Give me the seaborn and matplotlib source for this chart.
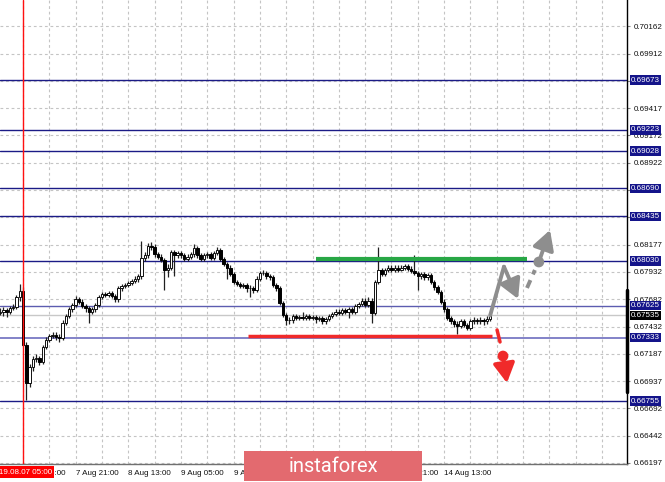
import matplotlib
matplotlib.use('Agg')
import matplotlib.pyplot as plt
import matplotlib.transforms as mtransforms
from matplotlib.patches import Rectangle
import seaborn as sns
import pandas as pd

# H1 свечи, индекс 0 = 2019.08.07 05:00
bar_start = -7
first_open = 0.6756
closes = [0.6757, 0.6758, 0.6757, 0.6760, 0.6761, 0.6770, 0.6776,
          0.6727, 0.6692, 0.6707, 0.6714, 0.6715, 0.6711, 0.6725, 0.6731, 0.6735, 0.6736,
          0.6734, 0.6733, 0.6747, 0.6753, 0.6759, 0.6763, 0.6768, 0.6766, 0.6762, 0.6760,
          0.6757, 0.6759, 0.6763, 0.6770, 0.6773, 0.6772, 0.6774, 0.6771, 0.6768, 0.6778,
          0.6780, 0.6781, 0.6783, 0.6785, 0.6787, 0.6789, 0.6806, 0.6808, 0.6817, 0.6816,
          0.6809, 0.6807, 0.6804, 0.6795, 0.6797, 0.6811, 0.6808, 0.6810, 0.6808, 0.6805,
          0.6807, 0.6809, 0.6815, 0.6808, 0.6805, 0.6808, 0.6809, 0.6806, 0.6810, 0.6813,
          0.6805, 0.6800, 0.6797, 0.6791, 0.6784, 0.6782, 0.6780, 0.6781, 0.6778, 0.6778,
          0.6777, 0.6787, 0.6792, 0.6792, 0.6789, 0.6788, 0.6781, 0.6778, 0.6765, 0.6754,
          0.6749, 0.6749, 0.6753, 0.6751, 0.6752, 0.6751, 0.6753, 0.6751, 0.6752, 0.6750,
          0.6751, 0.6748, 0.6750, 0.6753, 0.6755, 0.6757, 0.6756, 0.6758, 0.6757, 0.6759,
          0.6757, 0.6762, 0.6764, 0.6767, 0.6763, 0.6767, 0.6756, 0.6784, 0.6795, 0.6791,
          0.6795, 0.6797, 0.6795, 0.6797, 0.6795, 0.6797, 0.6798, 0.6796, 0.6794, 0.6792,
          0.6789, 0.6791, 0.6788, 0.6790, 0.6784, 0.6779, 0.6775, 0.6766, 0.6759, 0.6751,
          0.6748, 0.6746, 0.6744, 0.6748, 0.6745, 0.6742, 0.6748, 0.6749, 0.6748, 0.6749,
          0.6748, 0.6750, 0.67535]
highs = [0.6760, 0.6761, 0.6760, 0.6762, 0.6764, 0.6772, 0.6782,
         0.6779, 0.6729, 0.6709, 0.6717, 0.6718, 0.6717, 0.6727, 0.6734, 0.6737, 0.6738,
         0.6738, 0.6737, 0.6749, 0.6755, 0.6761, 0.6765, 0.6771, 0.6770, 0.6768, 0.6764,
         0.6762, 0.6761, 0.6765, 0.6772, 0.6775, 0.6775, 0.6776, 0.6776, 0.6773, 0.6780,
         0.6782, 0.6783, 0.6785, 0.6787, 0.6789, 0.6791, 0.6821, 0.6811, 0.6819, 0.6820,
         0.6818, 0.6811, 0.6809, 0.6806, 0.6800, 0.6813, 0.6813, 0.6812, 0.6812, 0.6810,
         0.6809, 0.6811, 0.6818, 0.6817, 0.6810, 0.6810, 0.6811, 0.6811, 0.6812, 0.6816,
         0.6815, 0.6807, 0.6802, 0.6799, 0.6793, 0.6786, 0.6784, 0.6783, 0.6783, 0.6781,
         0.6780, 0.6789, 0.6794, 0.6795, 0.6794, 0.6791, 0.6790, 0.6783, 0.6780, 0.6767,
         0.6756, 0.6752, 0.6755, 0.6755, 0.6754, 0.6757, 0.6755, 0.6755, 0.6754, 0.6754,
         0.6753, 0.6753, 0.6752, 0.6755, 0.6757, 0.6759, 0.6759, 0.6760, 0.6760, 0.6761,
         0.6761, 0.6764, 0.6766, 0.6769, 0.6769, 0.6770, 0.6769, 0.6786, 0.6816, 0.6797,
         0.6797, 0.6799, 0.6799, 0.6799, 0.6799, 0.6799, 0.6800, 0.6800, 0.6798, 0.6808,
         0.6794, 0.6793, 0.6793, 0.6792, 0.6792, 0.6786, 0.6781, 0.6777, 0.6768, 0.6761,
         0.6753, 0.6750, 0.6748, 0.6750, 0.6750, 0.6747, 0.6750, 0.6752, 0.6751, 0.6752,
         0.6751, 0.6753, 0.6756]
lows = [0.6754, 0.6753, 0.6752, 0.6755, 0.6758, 0.6759, 0.6767,
        0.6726, 0.6677, 0.6688, 0.6703, 0.6711, 0.6708, 0.6709, 0.6723, 0.6729, 0.6733,
        0.6731, 0.6729, 0.6731, 0.6745, 0.6751, 0.6757, 0.6761, 0.6764, 0.6760, 0.6757,
        0.6747, 0.6755, 0.6757, 0.6761, 0.6768, 0.6770, 0.6770, 0.6769, 0.6766, 0.6766,
        0.6776, 0.6778, 0.6779, 0.6781, 0.6783, 0.6784, 0.6787, 0.6803, 0.6806, 0.6813,
        0.6807, 0.6805, 0.6802, 0.6777, 0.6788, 0.6795, 0.6789, 0.6806, 0.6806, 0.6803,
        0.6803, 0.6805, 0.6807, 0.6806, 0.6803, 0.6803, 0.6806, 0.6804, 0.6804, 0.6808,
        0.6803, 0.6798, 0.6787, 0.6789, 0.6782, 0.6780, 0.6778, 0.6778, 0.6775, 0.6770,
        0.6774, 0.6775, 0.6785, 0.6790, 0.6787, 0.6786, 0.6779, 0.6776, 0.6763, 0.6752,
        0.6745, 0.6746, 0.6747, 0.6749, 0.6749, 0.6749, 0.6749, 0.6749, 0.6749, 0.6747,
        0.6748, 0.6746, 0.6746, 0.6748, 0.6751, 0.6753, 0.6754, 0.6754, 0.6755, 0.6751,
        0.6755, 0.6755, 0.6760, 0.6762, 0.6761, 0.6761, 0.6747, 0.6754, 0.6782, 0.6789,
        0.6789, 0.6793, 0.6793, 0.6793, 0.6793, 0.6794, 0.6795, 0.6794, 0.6792, 0.6790,
        0.6777, 0.6787, 0.6786, 0.6786, 0.6782, 0.6777, 0.6773, 0.6764, 0.6757, 0.6749,
        0.6746, 0.6743, 0.6737, 0.6742, 0.6743, 0.6740, 0.6740, 0.6746, 0.6746, 0.6746,
        0.6745, 0.6746, 0.6748]

# ценовая сетка; подписи под плашками уровней не видны
price_ticks = [0.70162, 0.69912, 0.69667, 0.69417, 0.69172, 0.68922, 0.68677, 0.68427,
               0.68177, 0.67932, 0.67682, 0.67432, 0.67187, 0.66937, 0.66692, 0.66442, 0.66197]
hidden_ticks = [0.69667, 0.68677, 0.68427]
time_ticks = [0, 16, 32, 48, 64, 80, 96, 112, 128]
time_labels = ['7 Aug 05:00', '7 Aug 21:00', '8 Aug 13:00', '9 Aug 05:00', '9 Aug 21:00',
               '12 Aug 13:00', '13 Aug 05:00', '13 Aug 21:00', '14 Aug 13:00']
# эти подписи целиком закрыты баннером
hidden_times = ['12 Aug 13:00', '13 Aug 05:00']
dark_levels = [0.69673, 0.69223, 0.69028, 0.68690, 0.68435, 0.68030, 0.66755]
light_levels = [0.67625, 0.67333]
current_price = 0.67535

# уровни сопротивления / поддержки
green_x = [89.1, 153.2]
green_y = 0.68048
red_x = [68.4, 142.6]
red_y = 0.6735

# прогнозные стрелки
gray_path_x = [142.0, 146.2]
gray_path_y = [0.67535, 0.67978]
gray_arrow_end = (150.5, 0.67685)
gray_dash_x = [153.2, 155.6]
gray_dash_y = [0.67785, 0.67948]
gray_dot = (156.8, 0.68021)
gray_arrow2_end = (160.2, 0.68312)
red_dash_x = [144.1, 145.0]
red_dash_y = [0.67403, 0.67294]
red_dot = (145.9, 0.67166)
red_arrow_end = (147.1, 0.66921)

df = pd.DataFrame({'close': closes, 'high': highs, 'low': lows})
df['open'] = [first_open] + closes[:-1]
df['x'] = range(bar_start, bar_start + len(df))

sns.set_style('white')
plt.rcParams['font.family'] = ['Liberation Sans', 'DejaVu Sans']

fig = plt.figure(figsize=(6.65, 4.82), dpi=100)
ax = fig.add_axes([0, 18 / 482, 627 / 665, 464 / 482])
ax.set_xlim(-7.0, 183.6)
ax.set_ylim(0.661845, 0.704027)

# сетка
grid_kw = dict(color='#c4c4c4', lw=0.8, ls=(0, (2.5, 2.5)), zorder=0)
for p in price_ticks:
    ax.axhline(p, **grid_kw)
for gx in range(0, 184, 8):
    ax.axvline(gx, **grid_kw)

# уровни
for lv in dark_levels:
    ax.axhline(lv, color='#1b1b86', lw=1.0, zorder=1)
ax.axhline(light_levels[0], color='#5c5cb0', lw=1.0, zorder=1)
ax.axhline(light_levels[1], color='#8282c8', lw=1.4, zorder=1)
ax.axhline(current_price, color='#c8c8c8', lw=1.0, zorder=1)

# свечи
up = df[df['close'] >= df['open']]
dn = df[df['close'] < df['open']]
ax.vlines(df['x'], df['low'], df['high'], color='#202020', lw=0.9, zorder=2)
ax.bar(up['x'], (up['close'] - up['open']).clip(lower=0.00002), bottom=up['open'], width=0.75,
       color='white', edgecolor='#101010', lw=0.7, zorder=3)
ax.bar(dn['x'], dn['close'] - dn['open'], bottom=dn['open'], width=0.75,
       color='black', edgecolor='black', lw=0.7, zorder=3)

ax.axvline(0, color='#ff1010', lw=1.0, zorder=4)

ax.plot(green_x, [green_y, green_y], color='#28a745', lw=3, solid_capstyle='butt', zorder=5)
ax.plot(red_x, [red_y, red_y], color='#f02a2a', lw=2.5, solid_capstyle='butt', zorder=5)

# прогноз
gray = '#8e8e8e'
head = dict(arrowstyle='-|>,head_length=0.9,head_width=0.5', lw=2.8, mutation_scale=13,
            shrinkA=0, shrinkB=0)
ax.plot(gray_path_x, gray_path_y, color=gray, lw=2.8, zorder=6)
ax.annotate('', xy=gray_arrow_end, xytext=(gray_path_x[-1], gray_path_y[-1]),
            arrowprops=dict(color=gray, **head), zorder=6)
ax.plot(gray_dash_x, gray_dash_y, color=gray, lw=2.8, ls=(0, (2.2, 1.6)), zorder=6)
ax.annotate('', xy=gray_arrow2_end, xytext=gray_dot,
            arrowprops=dict(color=gray, **head), zorder=6)
ax.plot(red_dash_x, red_dash_y, color='#f02a2a', lw=2.5, zorder=6)
ax.annotate('', xy=red_arrow_end, xytext=red_dot,
            arrowprops=dict(color='#f02a2a', **head), zorder=6)
dots = pd.DataFrame({'x': [gray_dot[0], red_dot[0]], 'y': [gray_dot[1], red_dot[1]],
                     'c': ['g', 'r']})
sns.scatterplot(data=dots, x='x', y='y', hue='c', palette={'g': gray, 'r': '#f02a2a'},
                s=60, edgecolor='none', legend=False, ax=ax, zorder=7)
ax.set_xlabel('')
ax.set_ylabel('')

# оси
for s in ['left', 'top']:
    ax.spines[s].set_visible(False)
ax.spines['right'].set_color('black')
ax.spines['right'].set_linewidth(1.0)
ax.spines['bottom'].set_color('#707070')
ax.spines['bottom'].set_linewidth(1.0)

ax.yaxis.tick_right()
ax.set_yticks(price_ticks)
ax.set_yticklabels(['' if p in hidden_ticks else f'{p:.5f}' for p in price_ticks])
ax.tick_params(axis='y', labelsize=5.8, length=2, color='#808080', pad=2.5, labelcolor='#101010')
ax.set_xticks(time_ticks)
ax.set_xticklabels(['' if t in hidden_times else t for t in time_labels])
ax.tick_params(axis='x', labelsize=5.8, length=3, color='#404040', pad=1.5, labelcolor='#101010')
for lab in ax.get_xticklabels():
    lab.set_horizontalalignment('left')

trans = mtransforms.blended_transform_factory(ax.transAxes, ax.transData)
ax.plot([1.0, 1.0], [0.67766, 0.66839], transform=trans,
        color='black', lw=2.5, clip_on=False, zorder=8)

# подписи уровней
for lv in dark_levels + light_levels:
    ax.text(1.0065, lv, f'{lv:.5f}', transform=trans, fontsize=5.8, color='white',
            va='center', ha='left', clip_on=False, zorder=9,
            bbox=dict(boxstyle='square,pad=0.16', fc='#14148a', ec='none'))
ax.text(1.0065, current_price, f'{current_price:.5f}', transform=trans, fontsize=5.8, color='white',
        va='center', ha='left', clip_on=False, zorder=9,
        bbox=dict(boxstyle='square,pad=0.16', fc='black', ec='none'))

fig.text(52 / 665, 1 - 472 / 482, '2019.08.07 05:00', fontsize=5.8, color='white', ha='right',
         va='center', bbox=dict(boxstyle='square,pad=0.25', fc='#ff0000', ec='none'), zorder=10)

# баннер
fig.patches.append(Rectangle((244 / 665, 1 / 482), 178 / 665, 30 / 482, transform=fig.transFigure,
                             fc='#e36a6f', ec='none', zorder=10))
fig.text(333 / 665, 1 - 466 / 482, 'instaforex', fontsize=14.5, color='white', ha='center',
         va='center', family=['Roboto', 'DejaVu Sans'], zorder=11)

fig.savefig('out.png', dpi=100)
